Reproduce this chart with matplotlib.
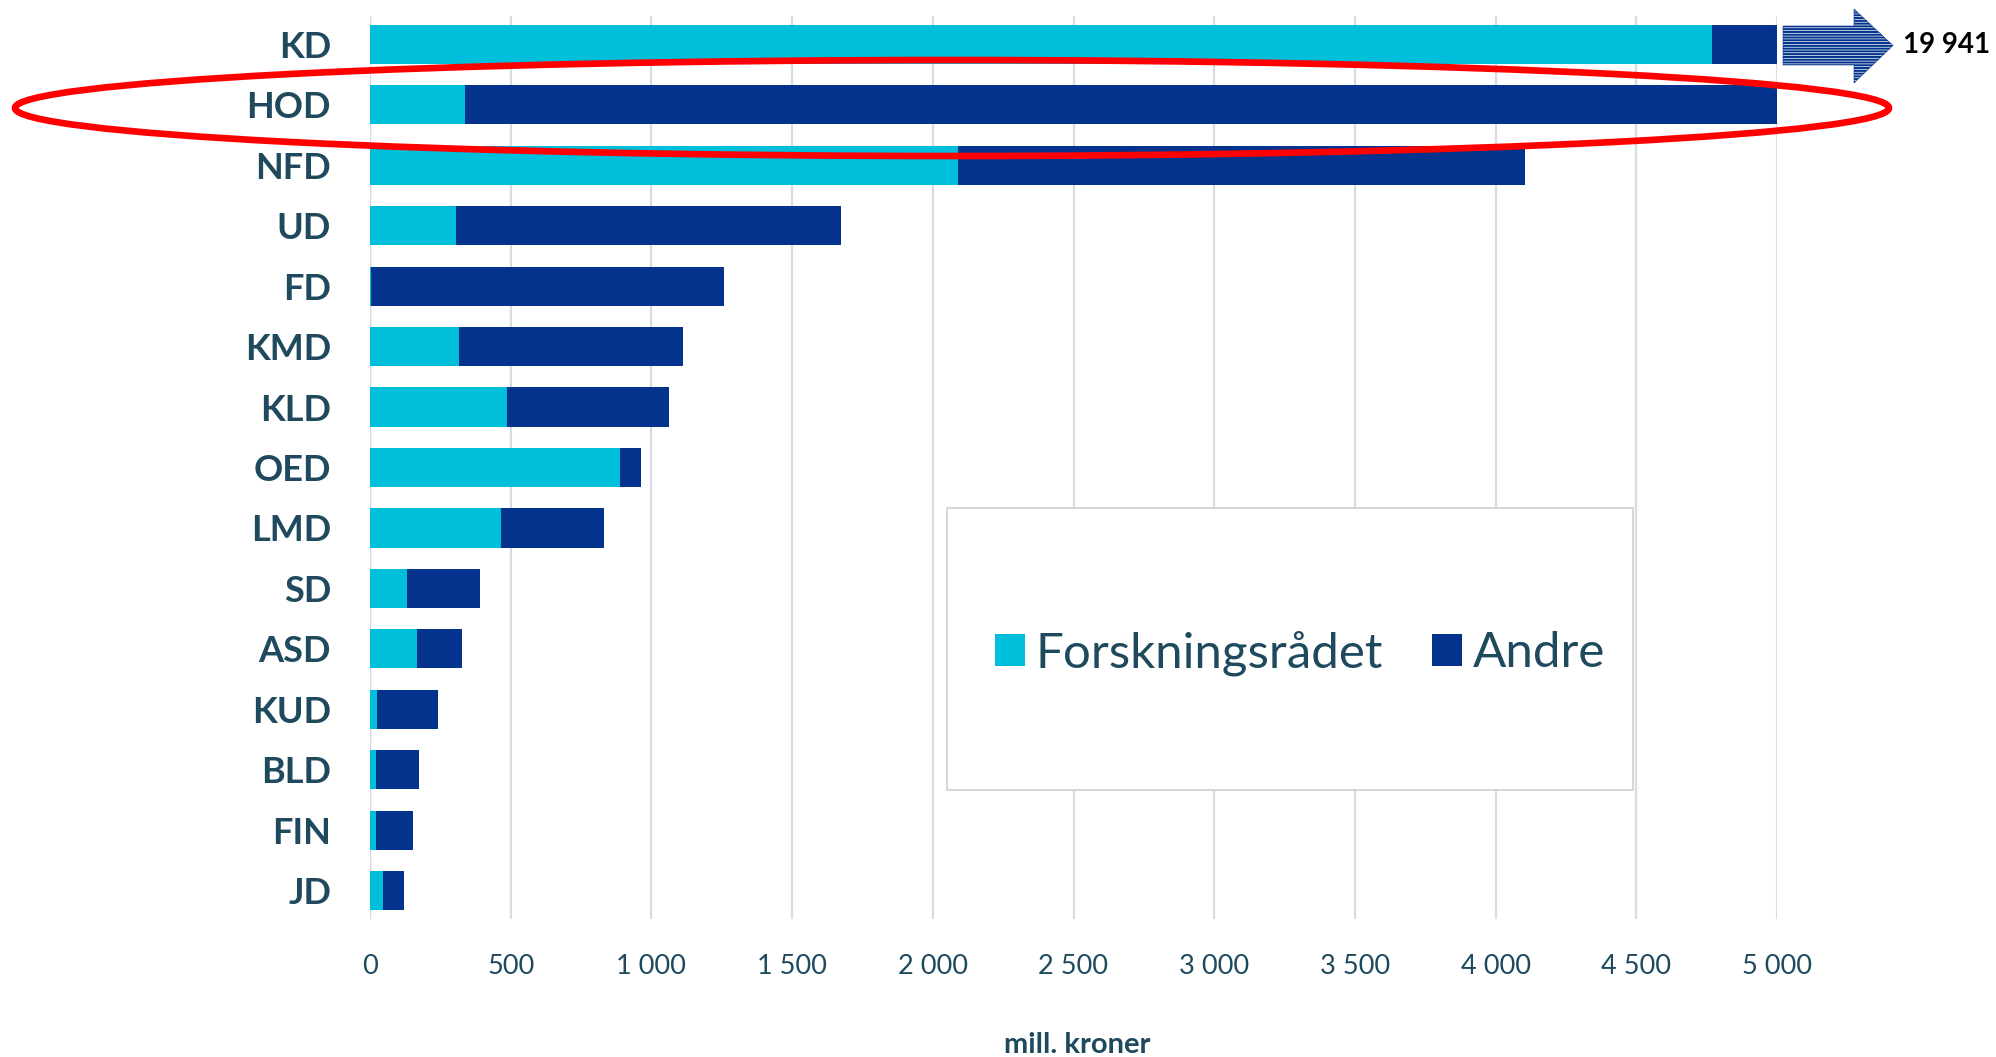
import matplotlib.pyplot as plt
from matplotlib.patches import Ellipse, Polygon, Rectangle
from matplotlib.ticker import FuncFormatter

plt.rcParams['font.family'] = ['Lato', 'DejaVu Sans']

# data (mill. kroner)
departments = ["KD", "HOD", "NFD", "UD", "FD", "KMD", "KLD", "OED", "LMD",
               "SD", "ASD", "KUD", "BLD", "FIN", "JD"]
forskningsradet = [4770, 339, 2090, 307, 5, 316, 488, 890, 467, 130, 167, 25, 20, 21, 45]
andre = [15171, 4661, 2015, 1368, 1253, 797, 575, 74, 363, 261, 160, 215, 154, 133, 76]
kd_total_label = "19 941"
x_ticks = [0, 500, 1000, 1500, 2000, 2500, 3000, 3500, 4000, 4500, 5000]

CYAN = "#00BFDB"
NAVY = "#03338C"
TEXT = "#1F4A5E"
GRID = "#D8DBE5"

W, H = 1996, 1057
fig = plt.figure(figsize=(W / 100, H / 100), dpi=100)


def fx(px):
    return px / W


def fy(py):
    return 1 - py / H


ax = fig.add_axes([fx(370), fy(919), fx(1777) - fx(370), fy(16) - fy(919)])

y = range(len(departments))
ax.barh(y, forskningsradet, height=0.65, color=CYAN, label="Forskningsrådet", zorder=3)
ax.barh(y, andre, left=forskningsradet, height=0.65, color=NAVY, label="Andre", zorder=3)

ax.set_ylim(14.47, -0.47)
ax.set_xlim(0, 5000)
ax.set_yticks(list(y))
ax.set_yticklabels(departments, fontsize=26, fontweight="bold", color=TEXT)
ax.set_xticks(x_ticks)
ax.xaxis.set_major_formatter(FuncFormatter(lambda v, p: f"{int(v):,}".replace(",", " ")))
ax.tick_params(axis="x", length=0, pad=25, labelsize=19.5, labelcolor=TEXT)
ax.tick_params(axis="y", length=0, pad=28)
for s in ax.spines.values():
    s.set_visible(False)
ax.grid(axis="x", color=GRID, linewidth=1.6, zorder=0)
ax.axvline(0, color="#C8C8CC", linewidth=1.6, zorder=1)

fig.text(fx(1077), fy(1045), "mill. kroner", ha="center", va="center",
         fontsize=21, fontweight="bold", color=TEXT)

# legend box
fig.patches.append(Rectangle((fx(947), fy(790)), fx(1633) - fx(947), fy(508) - fy(790),
                             transform=fig.transFigure, facecolor="white",
                             edgecolor="#D0D0D0", linewidth=1.2, zorder=4))
leg = fig.legend(loc="center", bbox_to_anchor=(fx(1300), fy(653)), ncol=2, frameon=False,
                 fontsize=35.5, handlelength=0.6, handleheight=0.6, handletextpad=0.22,
                 columnspacing=1.0)
for t in leg.get_texts():
    t.set_color(TEXT)
leg.set_zorder(5)

# striped arrow for the KD bar that goes off the scale
arrow_px = [(1783, 26), (1854, 26), (1854, 9), (1893, 45.5), (1854, 83), (1854, 65), (1783, 65)]
plt.rcParams['hatch.linewidth'] = 1.5
arrow = Polygon([(fx(a), fy(b)) for a, b in arrow_px], closed=True, transform=fig.transFigure,
                facecolor="white", edgecolor=NAVY, hatch="------", linewidth=0.4)
fig.patches.append(arrow)
fig.text(fx(1903), fy(45), kd_total_label, ha="left", va="center",
         fontsize=20, fontweight="bold", color="black")

# red highlight ring around HOD
ring = Ellipse((fx(952), fy(108)), fx(1874), 96 / H, transform=fig.transFigure,
               fill=False, edgecolor="#FF0000", linewidth=4.8, zorder=10)
fig.patches.append(ring)

fig.savefig("out.png", dpi=100)
